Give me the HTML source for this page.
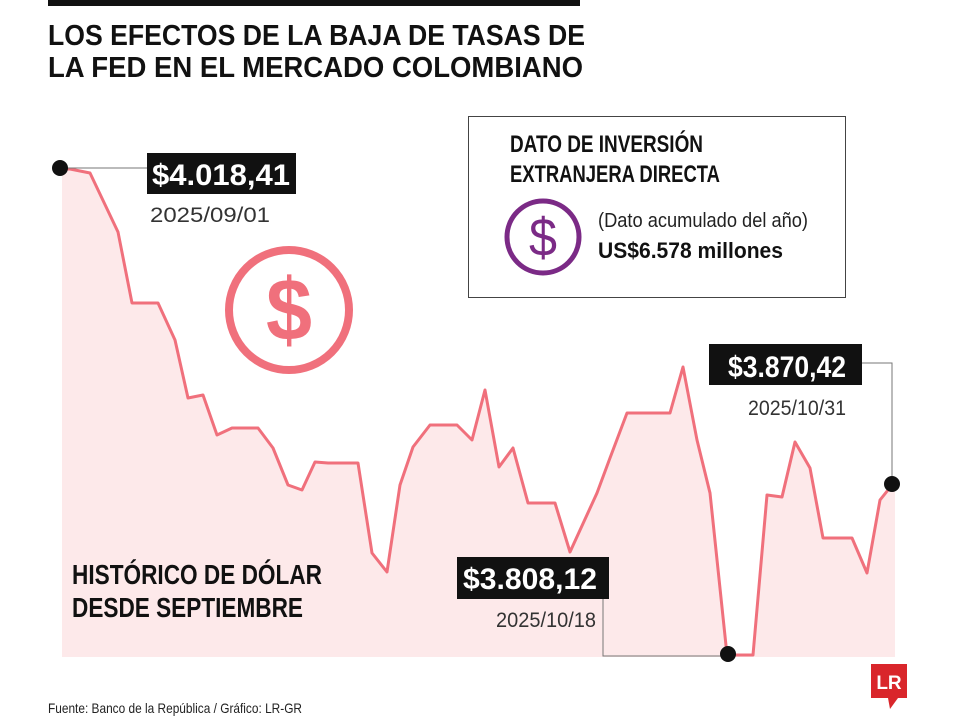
<!DOCTYPE html><html><head><style>
body{margin:0;background:#fff}
svg text{font-family:"Liberation Sans Narrow","Liberation Sans",sans-serif}
</style></head><body>
<svg width="960" height="720" viewBox="0 0 960 720" xmlns="http://www.w3.org/2000/svg">
<rect x="48" y="0" width="532" height="6" fill="#111"/>
<text x="48" y="45" font-size="29" font-weight="bold" fill="#111" textLength="537" lengthAdjust="spacingAndGlyphs">LOS EFECTOS DE LA BAJA DE TASAS DE</text>
<text x="48" y="77" font-size="29" font-weight="bold" fill="#111" textLength="535" lengthAdjust="spacingAndGlyphs">LA FED EN EL MERCADO COLOMBIANO</text>
<polygon fill="#fde9ea" points="62,169 70,169 90,173 118,232 132,303 158,303 175,340 188,398 203,395 217,435 232,428 258,428 273,448 288,485 302,490 315,462 328,463 358,463 372,553 387,572 400,485 413,447 430,425 457,425 472,440 485,390 499,467 513,448 528,503 555,503 570,552 597,493 610,458 627,413 670,413 683,367 697,440 710,493 727,655 753,655 767,495 782,497 795,442 810,468 823,538 852,538 867,573 880,500 892,485 895,485 895,657 62,657"/>
<polyline fill="none" stroke="#f0707c" stroke-width="3" stroke-linejoin="round" points="62,169 70,169 90,173 118,232 132,303 158,303 175,340 188,398 203,395 217,435 232,428 258,428 273,448 288,485 302,490 315,462 328,463 358,463 372,553 387,572 400,485 413,447 430,425 457,425 472,440 485,390 499,467 513,448 528,503 555,503 570,552 597,493 610,458 627,413 670,413 683,367 697,440 710,493 727,655 753,655 767,495 782,497 795,442 810,468 823,538 852,538 867,573 880,500 892,485"/>
<g stroke="#777" stroke-width="1" fill="none">
<polyline points="60,168 147,168"/>
<polyline points="603,590 603,656 727,656"/>
<polyline points="860,363 892,363 892,484"/>
</g>
<circle cx="60" cy="168" r="8" fill="#111"/>
<circle cx="728" cy="654" r="8" fill="#111"/>
<circle cx="892" cy="484" r="8" fill="#111"/>
<rect x="147" y="153" width="149" height="41" fill="#111"/>
<text x="152" y="185" font-size="30" font-weight="bold" fill="#fff" textLength="138" lengthAdjust="spacingAndGlyphs">$4.018,41</text>
<text x="150" y="222" font-size="21" fill="#333" textLength="120" lengthAdjust="spacingAndGlyphs">2025/09/01</text>
<rect x="457" y="557" width="152" height="42" fill="#111"/>
<text x="463" y="589" font-size="30" font-weight="bold" fill="#fff" textLength="134" lengthAdjust="spacingAndGlyphs">$3.808,12</text>
<text x="496" y="627" font-size="21" fill="#333" textLength="100" lengthAdjust="spacingAndGlyphs">2025/10/18</text>
<rect x="709" y="344" width="153" height="41" fill="#111"/>
<text x="728" y="377" font-size="30" font-weight="bold" fill="#fff" textLength="118" lengthAdjust="spacingAndGlyphs">$3.870,42</text>
<text x="748" y="415" font-size="21" fill="#333" textLength="98" lengthAdjust="spacingAndGlyphs">2025/10/31</text>
<circle cx="289" cy="310" r="60" fill="none" stroke="#f0707c" stroke-width="8"/>
<text x="289" y="340" font-size="88" fill="#f0707c" text-anchor="middle" font-family="Liberation Sans" font-weight="bold" textLength="46" lengthAdjust="spacingAndGlyphs">$</text>
<text x="72" y="584" font-size="28" font-weight="bold" fill="#111" textLength="250" lengthAdjust="spacingAndGlyphs">HISTÓRICO DE DÓLAR</text>
<text x="72" y="617" font-size="28" font-weight="bold" fill="#111" textLength="231" lengthAdjust="spacingAndGlyphs">DESDE SEPTIEMBRE</text>
<rect x="468.5" y="116.5" width="377" height="181" fill="#fff" stroke="#444" stroke-width="1"/>
<text x="510" y="152" font-size="24" font-weight="bold" fill="#111" textLength="193" lengthAdjust="spacingAndGlyphs">DATO DE INVERSIÓN</text>
<text x="510" y="182" font-size="24" font-weight="bold" fill="#111" textLength="210" lengthAdjust="spacingAndGlyphs">EXTRANJERA DIRECTA</text>
<circle cx="543" cy="237" r="36" fill="none" stroke="#7b2a86" stroke-width="5"/>
<text x="543" y="256" font-size="54" fill="#7b2a86" text-anchor="middle" font-family="Liberation Sans" textLength="28" lengthAdjust="spacingAndGlyphs">$</text>
<text x="598" y="227" font-size="20" fill="#222" textLength="210" lengthAdjust="spacingAndGlyphs">(Dato acumulado del año)</text>
<text x="598" y="258" font-size="22" font-weight="bold" fill="#111" textLength="185" lengthAdjust="spacingAndGlyphs">US$6.578 millones</text>
<text x="48" y="713" font-size="14" fill="#222" textLength="254" lengthAdjust="spacingAndGlyphs">Fuente: Banco de la República / Gráfico: LR-GR</text>
<rect x="871" y="664" width="36" height="34" fill="#d9262b"/>
<polygon points="888,698 898,698 890,709" fill="#d9262b"/>
<text x="889" y="689" font-size="19" font-weight="bold" fill="#fff" text-anchor="middle" font-family="Liberation Serif">LR</text>
</svg>
</body></html>
